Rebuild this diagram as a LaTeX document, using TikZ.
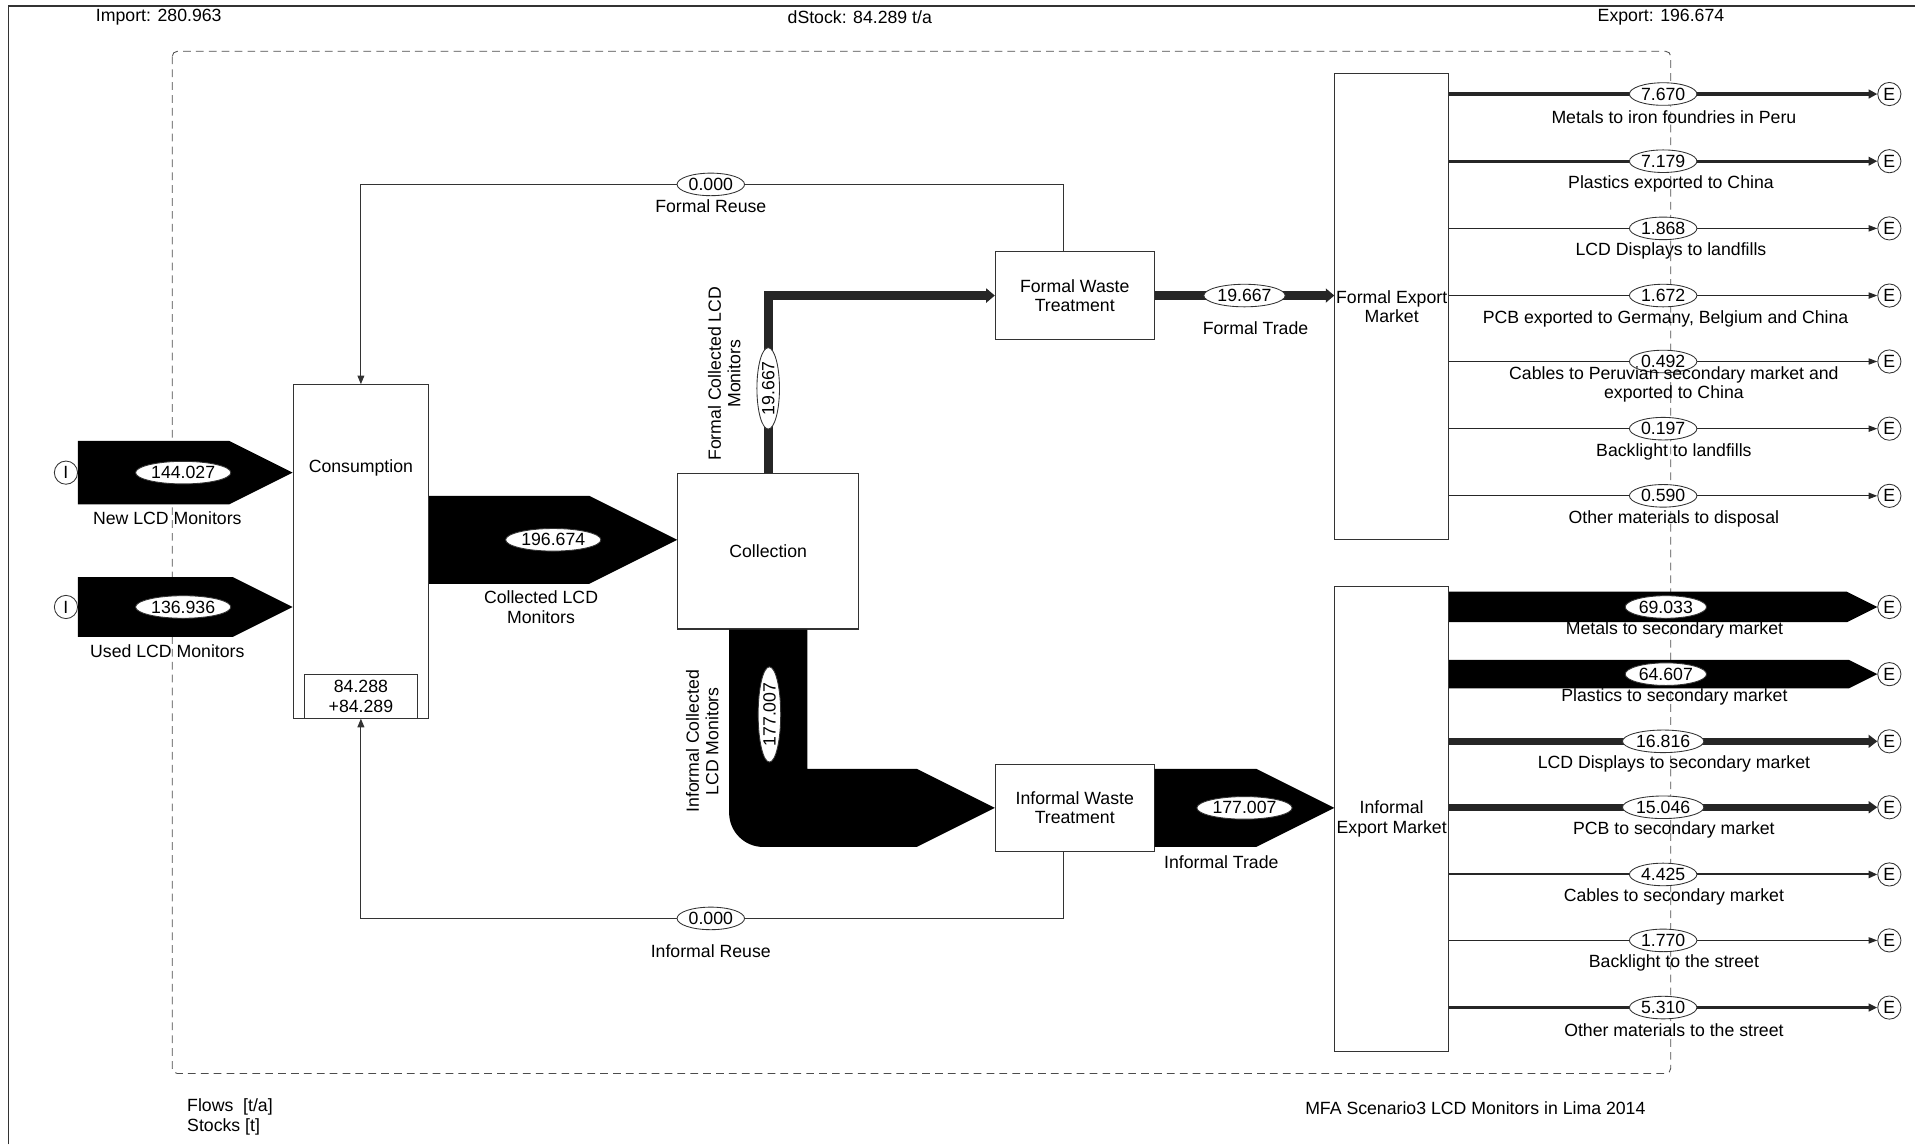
\documentclass[tikz,border=0pt]{standalone}
\usepackage{fontspec}
\setmainfont{Liberation Sans}
\usepackage{tikz}
\usetikzlibrary{shapes.geometric, arrows.meta, calc, positioning}
\tikzset{
    process/.style={rectangle, draw=black!80, line width=0.6pt, fill=white, inner sep=0pt, align=center},
    value/.style={ellipse, draw=black!80, line width=0.5pt, fill=white, inner sep=1pt},
    flowname/.style={inner sep=0pt, align=center},
    boundary/.style={circle, draw=black!80, line width=0.5pt, minimum size=0.475cm, inner sep=0pt},
    thinflow/.style={draw=black!85, -{Triangle[length=5pt, width=3pt 1]}},
    reuse/.style={draw=black!80, line width=0.6pt, -{Triangle[length=5pt, width=4pt]}},
    band/.style={fill=black}
}
% horizontal flow band with a triangular head: start, tip, width
\newcommand{\flowband}[3]{%
    \fill[band] ($(#1)+(0,-#3/2)$) -- ($(#2)+(-#3,-#3/2)$) -- (#2) -- ($(#2)+(-#3,#3/2)$) -- ($(#1)+(0,#3/2)$) -- cycle;}

\begin{document}
\begin{tikzpicture}[x=0.025cm, y=-0.025cm, font=\fontsize{10.3}{11.4}\selectfont]
        \useasboundingbox (0,0) rectangle (1568,937);

        % Frame and system boundary
        \draw[black!80, line width=0.8pt] (7,937) -- (7,5) -- (1568,5);
        \draw[black!70, line width=0.5pt, dash pattern=on 4.5pt off 3pt, rounded corners=3pt] (141,42) rectangle (1368,879);
        \node[flowname] (imp) at (130,14) {Import: 280.963};
        \node[flowname] (dstock) at (704,14) {dStock: 84.289 t/a};
        \node[flowname] (exp) at (1360,14) {Export: 196.674};
        \node[flowname, anchor=west, align=left] (units) at (153,914.5) {Flows\ \ [t/a]\\Stocks [t]};
        \node[flowname] (title) at (1208,907) {MFA Scenario3 LCD Monitors in Lima 2014};

        % Processes
        \node[process, minimum width=2.775cm, minimum height=6.825cm] (cons) at (295.5,451.5) {};
        \node[flowname] (consname) at (295.5,383) {Consumption};
        \node[process, minimum width=2.3cm, minimum height=0.9cm] (stock) at (295.5,570) {84.288\\+84.289};
        \node[process, minimum width=3.7cm, minimum height=3.175cm] (coll) at (629,451.5) {Collection};
        \node[process, minimum width=3.25cm, minimum height=1.8cm] (fwt) at (880,242) {Formal Waste\\Treatment};
        \node[process, minimum width=3.25cm, minimum height=1.775cm] (iwt) at (880,661.5) {Informal Waste\\Treatment};
        \node[process, minimum width=2.325cm, minimum height=9.55cm] (fem) at (1139.5,251) {Formal Export\\Market};
        \node[process, minimum width=2.325cm, minimum height=9.525cm] (iem) at (1139.5,670.5) {Informal\\Export Market};

        % Import and export nodes
        \node[boundary] (imp1) at (54,387) {I};
        \node[boundary] (imp2) at (54,497) {I};
        \node[boundary] (fe1) at (1547,77) {E};
        \node[boundary] (fe2) at (1547,132) {E};
        \node[boundary] (fe3) at (1547,187) {E};
        \node[boundary] (fe4) at (1547,242) {E};
        \node[boundary] (fe5) at (1547,296) {E};
        \node[boundary] (fe6) at (1547,351) {E};
        \node[boundary] (fe7) at (1547,406) {E};
        \node[boundary] (ie1) at (1547,497) {E};
        \node[boundary] (ie2) at (1547,552) {E};
        \node[boundary] (ie3) at (1547,607) {E};
        \node[boundary] (ie4) at (1547,661) {E};
        \node[boundary] (ie5) at (1547,716) {E};
        \node[boundary] (ie6) at (1547,770) {E};
        \node[boundary] (ie7) at (1547,825) {E};

        % Imports into Consumption
        \coordinate (newtip) at (cons.west |- imp1);
        \flowband{imp1.east}{newtip}{52}
        \node[value] (v-new) at (150,387) {144.027};
        \node[flowname] (n-new) at (137,424) {New LCD Monitors};
        \coordinate (usedtip) at (cons.west |- imp2);
        \flowband{imp2.east}{usedtip}{49}
        \node[value] (v-used) at (150,497) {136.936};
        \node[flowname] (n-used) at (137,533) {Used LCD Monitors};

        % Consumption to Collection
        \coordinate (colltip) at ($(coll.west)+(0,-9.5)$);
        \coordinate (collstart) at (cons.east |- colltip);
        \flowband{collstart}{colltip}{72}
        \node[value] (v-coll) at (453,442) {196.674};
        \node[flowname] (n-coll) at (443,497) {Collected LCD\\Monitors};

        % Collection to the waste treatments
        \draw[thinflow, line width=5.06pt] (coll.north) |- (fwt.west);
        \node[value, rotate=90] (v-fcoll) at (629,318) {19.667};
        \node[flowname, rotate=90] (n-fcoll) at (593,306) {Formal Collected LCD\\Monitors};
        \fill[band] ($(coll.south)+(-32,0)$) [rounded corners=0.7cm] -- ($(coll.south |- iwt.west)+(-32,32)$) [sharp corners] -- ($(iwt.west)+(-64,32)$) -- (iwt.west) -- ($(iwt.west)+(-64,-32)$) -- ($(coll.south |- iwt.west)+(32,-32)$) -- ($(coll.south)+(32,0)$) -- cycle;
        \node[value, rotate=90] (v-icoll) at (630,585) {177.007};
        \node[flowname, rotate=90] (n-icoll) at (575,607) {Informal Collected\\LCD Monitors};

        % Trade to the export markets
        \path (fwt.east) edge[thinflow, line width=5.06pt] (fwt.east -| fem.west);
        \node[value] (v-ftrade) at (1019,242) {19.667};
        \node[flowname] (n-ftrade) at (1028,269) {Formal Trade};
        \coordinate (itradetip) at (iwt.east -| iem.west);
        \flowband{iwt.east}{itradetip}{64}
        \node[value] (v-itrade) at (1019,661.5) {177.007};
        \node[flowname] (n-itrade) at (1000,706) {Informal Trade};

        % Reuse back to Consumption
        \coordinate (frmid) at (582,151);
        \draw[reuse] ($(fwt.north)+(-9,0)$) |- (frmid) -| (cons.north);
        \node[value] (v-freuse) at (frmid) {0.000};
        \node[flowname] (n-freuse) at (582,169) {Formal Reuse};
        \coordinate (irmid) at (582,752);
        \draw[reuse] ($(iwt.south)+(-9,0)$) |- (irmid) -| (cons.south);
        \node[value] (v-ireuse) at (irmid) {0.000};
        \node[flowname] (n-ireuse) at (582,779) {Informal Reuse};

        % Formal export market outflows
        \path (fem.east |- fe1) edge[thinflow, line width=1.98pt] node[value] (v-fe1) {7.670} node[flowname, xshift=2.2mm, yshift=-4.7mm] (n-fe1) {Metals to iron foundries in Peru} (fe1);
        \path (fem.east |- fe2) edge[thinflow, line width=1.85pt] node[value] (v-fe2) {7.179} node[flowname, xshift=1.6mm, yshift=-4.7mm] (n-fe2) {Plastics exported to China} (fe2);
        \path (fem.east |- fe3) edge[thinflow, line width=0.6pt] node[value] (v-fe3) {1.868} node[flowname, xshift=1.6mm, yshift=-4.7mm] (n-fe3) {LCD Displays to landfills} (fe3);
        \path (fem.east |- fe4) edge[thinflow, line width=0.6pt] node[value] (v-fe4) {1.672} node[flowname, xshift=0.5mm, yshift=-4.7mm] (n-fe4) {PCB exported to Germany, Belgium and China} (fe4);
        \path (fem.east |- fe5) edge[thinflow, line width=0.6pt] node[value] (v-fe5) {0.492} node[flowname, xshift=2.2mm, yshift=-4.7mm] (n-fe5) {Cables to Peruvian secondary market and\\exported to China} (fe5);
        \path (fem.east |- fe6) edge[thinflow, line width=0.6pt] node[value] (v-fe6) {0.197} node[flowname, xshift=2.2mm, yshift=-4.7mm] (n-fe6) {Backlight to landfills} (fe6);
        \path (fem.east |- fe7) edge[thinflow, line width=0.6pt] node[value] (v-fe7) {0.590} node[flowname, xshift=2.2mm, yshift=-4.7mm] (n-fe7) {Other materials to disposal} (fe7);

        % Informal export market outflows
        \coordinate (ie1s) at (iem.east |- ie1);
        \flowband{ie1s}{ie1.west}{25}
        \node[value] (v-ie1) at (1364,497) {69.033};
        \node[flowname] (n-ie1) at (1371,515.5) {Metals to secondary market};
        \coordinate (ie2s) at (iem.east |- ie2);
        \flowband{ie2s}{ie2.west}{23.4}
        \node[value] (v-ie2) at (1364,552) {64.607};
        \node[flowname] (n-ie2) at (1371,570.5) {Plastics to secondary market};
        \path (iem.east |- ie3) edge[thinflow, line width=4.33pt] node[value] (v-ie3) {16.816} node[flowname, xshift=2.2mm, yshift=-4.7mm] (n-ie3) {LCD Displays to secondary market} (ie3);
        \path (iem.east |- ie4) edge[thinflow, line width=3.87pt] node[value] (v-ie4) {15.046} node[flowname, xshift=2.2mm, yshift=-4.7mm] (n-ie4) {PCB to secondary market} (ie4);
        \path (iem.east |- ie5) edge[thinflow, line width=1.14pt] node[value] (v-ie5) {4.425} node[flowname, xshift=2.2mm, yshift=-4.7mm] (n-ie5) {Cables to secondary market} (ie5);
        \path (iem.east |- ie6) edge[thinflow, line width=0.6pt] node[value] (v-ie6) {1.770} node[flowname, xshift=2.2mm, yshift=-4.7mm] (n-ie6) {Backlight to the street} (ie6);
        \path (iem.east |- ie7) edge[thinflow, line width=1.37pt] node[value] (v-ie7) {5.310} node[flowname, xshift=2.2mm, yshift=-4.7mm] (n-ie7) {Other materials to the street} (ie7);

    \end{tikzpicture}
\end{document}
